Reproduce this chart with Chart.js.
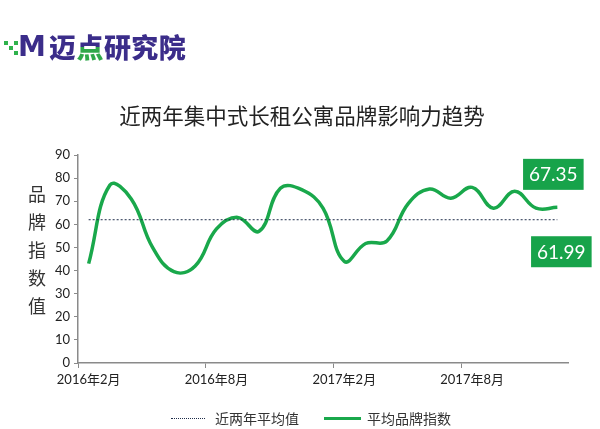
<!DOCTYPE html>
<html lang="zh">
<head>
    <meta charset="UTF-8">
    <title>近两年集中式长租公寓品牌影响力趋势</title>
    <script src="https://cdn.jsdelivr.net/npm/chart.js"></script>
    <style>
        body {
            margin: 0;
            padding: 0;
            background: #fff;
            font-family: 'Lato', 'Noto Sans CJK SC', sans-serif;
        }
        .page {
            position: relative;
            width: 600px;
            height: 429px;
            overflow: hidden;
        }
        canvas {
            position: absolute;
            left: 0;
            top: 0;
        }
        .logo {
            position: absolute;
            left: 4px;
            top: 28px;
            height: 36px;
            display: flex;
            align-items: center;
            font-family: 'Noto Sans CJK SC', sans-serif;
            font-weight: 900;
            color: #3b2d8a;
        }
        .logo .pix {
            position: relative;
            width: 14px;
            height: 22px;
        }
        .logo .pix i {
            position: absolute;
            width: 4px;
            height: 4px;
            background: #2fb24c;
        }
        .logo .m {
            font-family: 'DejaVu Sans', sans-serif;
            font-weight: bold;
            font-size: 28px;
            letter-spacing: -1px;
            margin-right: 4px;
        }
        .logo .name {
            font-size: 27px;
            letter-spacing: 0.5px;
        }
        .logo .dot {
            background: linear-gradient(to bottom, #3b2d8a 52%, #2fa84a 52%);
            -webkit-background-clip: text;
            background-clip: text;
            color: transparent;
        }
        .title {
            position: absolute;
            left: 0;
            width: 604px;
            top: 99px;
            text-align: center;
            font-family: 'Noto Sans CJK SC', sans-serif;
            font-size: 21.5px;
            color: #222;
        }
        .ytitle {
            position: absolute;
            left: 27px;
            top: 179px;
            width: 20px;
            font-family: 'Noto Sans CJK SC', sans-serif;
            font-size: 18px;
            line-height: 28px;
            color: #333;
            text-align: center;
        }
        .legend {
            position: absolute;
            top: 408px;
            left: 171px;
            display: flex;
            align-items: center;
            font-family: 'Noto Sans CJK SC', sans-serif;
            font-size: 14px;
            color: #333;
        }
        .legend .dash {
            width: 34px;
            border-top: 1px dotted #1f2d4a;
            margin-right: 10px;
        }
        .legend .solid {
            width: 37px;
            border-top: 3px solid #19a84b;
            margin-left: 25px;
            margin-right: 6px;
        }
    </style>
</head>
<body>
<div class="page">
    <canvas id="trendChart" width="600" height="429"></canvas>
    <div class="logo">
        <div class="pix">
            <i style="left:0;top:6px"></i><i style="left:5px;top:11px"></i>
            <i style="left:10px;top:6px"></i><i style="left:10px;top:16px"></i>
        </div>
        <span class="m">M</span>
        <span class="name">迈<span class="dot">点</span>研究院</span>
    </div>
    <div class="title">近两年集中式长租公寓品牌影响力趋势</div>
    <div class="ytitle">品<br>牌<br>指<br>数<br>值</div>
    <div class="legend">
        <span class="dash"></span><span>近两年平均值</span>
        <span class="solid"></span><span>平均品牌指数</span>
    </div>
</div>
<script>
const months = [
    '2016年2月', '2016年3月', '2016年4月', '2016年5月', '2016年6月', '2016年7月',
    '2016年8月', '2016年9月', '2016年10月', '2016年11月', '2016年12月', '2017年1月',
    '2017年2月', '2017年3月', '2017年4月', '2017年5月', '2017年6月', '2017年7月',
    '2017年8月', '2017年9月', '2017年10月', '2017年11月', '2017年12月'
];
const brandIndex = [
    43, 77, 71, 50, 39.5, 42,
    58, 63, 57, 75.6, 75, 67,
    44, 51.7, 52.8, 69, 75.3, 71.3,
    76, 67, 74.3, 67, 67.35
];
const averageValue = 61.99;
const averageLine = months.map(() => averageValue);

const GREEN = '#19a84b';
const BOX_GREEN = '#17a34a';
const AXIS = '#8a8a8a';

// 右侧两个绿色数值标签
const valueBoxes = {
    id: 'valueBoxes',
    afterDatasetsDraw(chart) {
        const ctx = chart.ctx;
        const last = chart.getDatasetMeta(1).data[brandIndex.length - 1];
        const yScale = chart.scales.y;
        const boxes = [
            { text: brandIndex[brandIndex.length - 1].toFixed(2), cx: last.x - 4, cy: yScale.getPixelForValue(brandIndex[brandIndex.length - 1]) - 33 },
            { text: averageValue.toFixed(2), cx: last.x + 4, cy: yScale.getPixelForValue(averageValue) + 32 }
        ];
        ctx.save();
        ctx.font = '19px Lato, "Noto Sans", sans-serif';
        ctx.textAlign = 'center';
        ctx.textBaseline = 'middle';
        boxes.forEach(b => {
            const w = ctx.measureText(b.text).width + 12;
            const h = 31;
            ctx.fillStyle = BOX_GREEN;
            ctx.fillRect(b.cx - w / 2, b.cy - h / 2, w, h);
            ctx.fillStyle = '#fff';
            ctx.fillText(b.text, b.cx, b.cy + 1);
        });
        ctx.restore();
    }
};

new Chart(document.getElementById('trendChart'), {
    type: 'line',
    data: {
        labels: months,
        datasets: [
            {
                label: '近两年平均值',
                data: averageLine,
                borderColor: '#1f2d4a',
                borderWidth: 1,
                borderDash: [2, 2],
                pointRadius: 0,
                tension: 0
            },
            {
                label: '平均品牌指数',
                data: brandIndex,
                borderColor: GREEN,
                borderWidth: 3.5,
                pointRadius: 0,
                tension: 0.42
            }
        ]
    },
    options: {
        responsive: false,
        animation: false,
        layout: {
            padding: { left: 38, right: 32, top: 155, bottom: 0 }
        },
        plugins: {
            legend: { display: false },
            tooltip: { enabled: false }
        },
        scales: {
            x: {
                offset: true,
                afterFit: s => { s.height = 66; },
                grid: {
                    offset: true,
                    drawOnChartArea: false,
                    tickLength: 5,
                    tickColor: c => (c.index % 6 === 0 ? AXIS : 'rgba(0,0,0,0)')
                },
                border: { color: AXIS, width: 1.5 },
                ticks: {
                    autoSkip: false,
                    maxRotation: 0,
                    padding: 4,
                    color: '#222',
                    font: { family: 'Lato, "Noto Sans CJK SC"', size: 13 },
                    callback: (v, i) => (i % 6 === 0 ? months[i] : '')
                }
            },
            y: {
                min: 0,
                max: 90,
                afterFit: s => { s.width = 40; },
                grid: {
                    drawOnChartArea: false,
                    tickLength: 4,
                    tickColor: AXIS
                },
                border: { color: AXIS, width: 1.5 },
                ticks: {
                    stepSize: 10,
                    padding: 4,
                    color: '#222',
                    font: { family: 'Lato, "Noto Sans CJK SC"', size: 13 }
                }
            }
        }
    },
    plugins: [valueBoxes]
});
</script>
</body>
</html>
